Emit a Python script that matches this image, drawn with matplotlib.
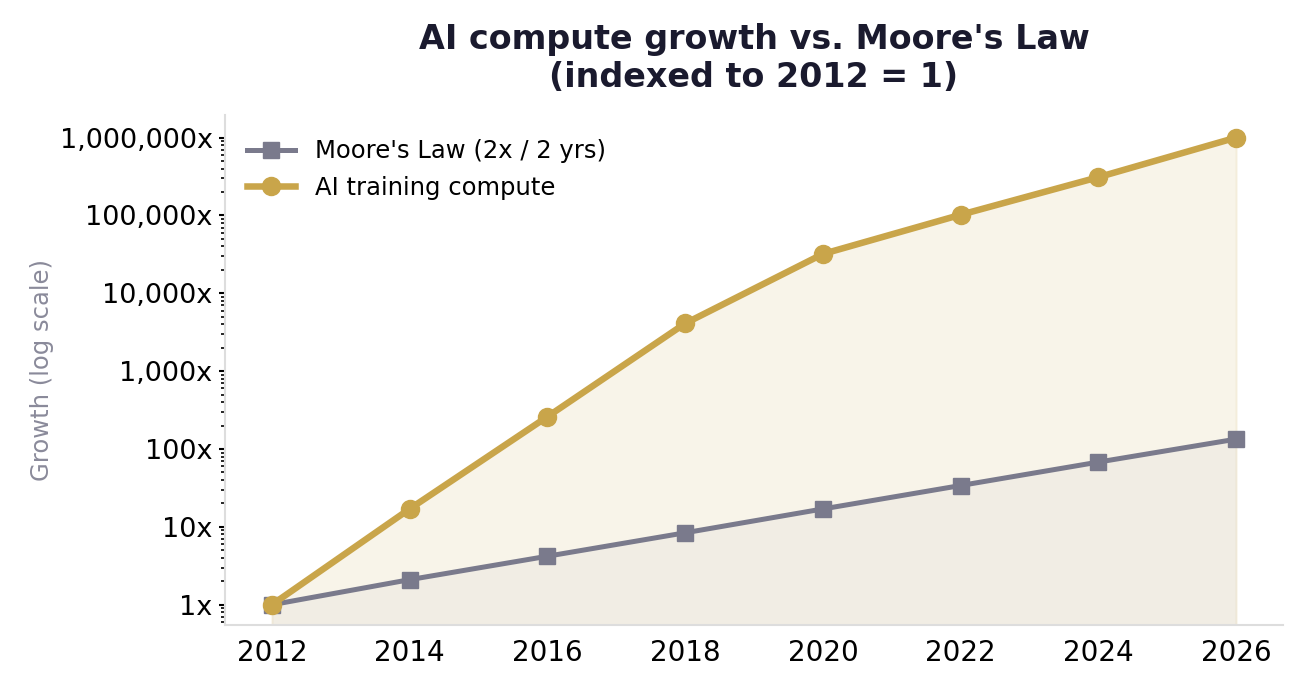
import matplotlib
matplotlib.use("Agg")
import matplotlib.pyplot as plt
from matplotlib.ticker import FuncFormatter, LogLocator, NullFormatter

years = [2012, 2014, 2016, 2018, 2020, 2022, 2024, 2026]
moore = [1, 2.1, 4.2, 8.4, 17, 34, 68, 134]
ai_compute = [1, 17, 260, 4100, 32000, 102000, 310000, 1000000]
year_labels = ["2012", "2014", "2016", "2018", "2020", "2022", "2024", "2026"]

gold = "#c9a54a"
gray = "#7a7a8c"

fig = plt.figure(figsize=(13.05, 6.87), dpi=100)
ax = fig.add_axes([225/1305, 1-625/687, (1283-225)/1305, (625-115)/687])

ymin, ymax = 10**-0.26, 10**6.29
ax.fill_between(years, ymin, ai_compute, color=gold, alpha=0.12, linewidth=1.5)
ax.fill_between(years, ymin, moore, color=gray, alpha=0.05, linewidth=0)
ax.plot(years, moore, color=gray, lw=3.6, marker="s", ms=11.5, label="Moore's Law (2x / 2 yrs)", zorder=3)
ax.plot(years, ai_compute, color=gold, lw=4.7, marker="o", ms=13, label="AI training compute", zorder=4)

ax.set_yscale("log")
ax.set_xlim(2011.32, 2026.68)
ax.set_ylim(ymin, ymax)
ax.set_xticks(years)
ax.set_xticklabels(year_labels)
ax.yaxis.set_major_locator(LogLocator(base=10, numticks=20))
ax.yaxis.set_minor_locator(LogLocator(base=10, subs=range(2, 10), numticks=100))
ax.yaxis.set_major_formatter(FuncFormatter(lambda v, p: f"{int(round(v)):,}x"))
ax.yaxis.set_minor_formatter(NullFormatter())

ax.tick_params(axis="x", length=0, labelsize=20, pad=10)
ax.tick_params(axis="y", which="major", length=4, width=1.5, labelsize=19.5, pad=5)
ax.tick_params(axis="y", which="minor", length=3, width=1.2)

for s in ["top", "right"]:
    ax.spines[s].set_visible(False)
for s in ["left", "bottom"]:
    ax.spines[s].set_color("#dddddd")
    ax.spines[s].set_linewidth(1.5)

ax.set_ylabel("Growth (log scale)", color="#8a8a9a", fontsize=17.5, labelpad=4)
ax.set_title("AI compute growth vs. Moore's Law\n(indexed to 2012 = 1)", fontsize=24,
             fontweight="bold", color="#1a1a2e", pad=20)
ax.legend(loc="upper left", frameon=False, fontsize=17.5, handlelength=2.0,
          borderaxespad=0.5, labelspacing=0.5, bbox_to_anchor=(0.0, 0.995))

fig.savefig("out.png", dpi=100)
